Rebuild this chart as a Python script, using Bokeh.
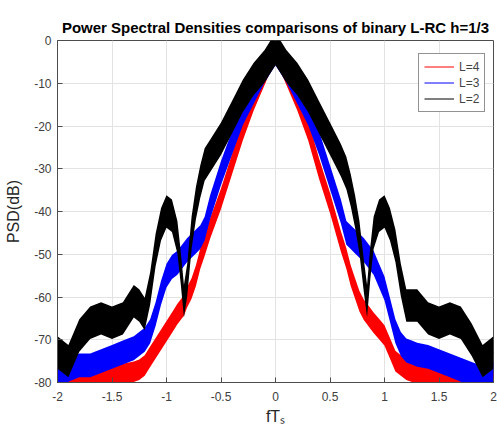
from bokeh.plotting import figure
from bokeh.models import (FixedTicker, CustomJSTickFormatter, Legend, LegendItem,
                          Range1d)
from bokeh.embed import file_html
from bokeh.resources import INLINE

# ---- data ----
freq = [-2.0, -1.9, -1.8, -1.7, -1.6, -1.5, -1.4, -1.3, -1.25, -1.2, -1.15, -1.1,
        -1.05, -1.0, -0.95, -0.9, -0.87, -0.84, -0.81, -0.77, -0.73, -0.69, -0.65,
        -0.6, -0.5, -0.4, -0.3, -0.2, -0.1, -0.05, 0.0,
        0.05, 0.1, 0.2, 0.3, 0.4, 0.5, 0.6, 0.65, 0.69, 0.73, 0.77, 0.81, 0.84,
        0.87, 0.9, 0.95, 1.0, 1.05, 1.1, 1.15, 1.2, 1.25, 1.3, 1.4, 1.5, 1.6, 1.7,
        1.8, 1.9, 2.0]

psd_L4 = [-80, -80, -79.5, -79, -79, -78.5, -78, -77.5, -77, -76, -74, -72, -70, -68,
          -66, -64, -63, -62, -60, -58, -55, -51, -48, -44, -37, -29, -21, -14, -8, -5,
          -3,
          -5, -8, -14, -21, -30, -38, -47, -51, -55, -58, -61, -63, -64, -65, -66,
          -67.5, -69, -72, -75, -76, -77, -77.5, -78, -78, -79, -79.5, -80, -80, -80, -80]

psd_L3 = [-78, -77, -76, -76, -75, -74, -73, -72, -71, -70, -68, -64, -59, -55, -53,
          -52, -51, -50, -49, -48, -47, -46, -44, -39, -31, -24, -17, -12, -7, -5,
          -3,
          -5, -7, -12, -17, -24, -32, -40, -45, -46, -47, -48, -49, -50, -51, -52,
          -55, -58, -63, -68, -71, -72.5, -73, -73.5, -74, -75, -76, -77, -78, -79, -78]

psd_L2 = [-73, -75, -69, -66, -65, -66, -65, -61, -62, -64, -58, -49, -43, -40, -41,
          -46, -53, -61, -56, -45, -38, -33, -29, -27, -23, -18, -13, -9, -6, -4,
          -2,
          -4, -6, -9, -13, -18, -23, -28, -31, -35, -40, -46, -55, -61, -52, -45,
          -41, -40, -43, -48, -56, -62, -62, -62, -65, -66, -65, -66, -70, -75, -73]

series_labels = ["L=4", "L=3", "L=2"]
x_ticks = [-2, -1.5, -1, -0.5, 0, 0.5, 1, 1.5, 2]
y_ticks = [0, -10, -20, -30, -40, -50, -60, -70, -80]

# ---- styling ----
FONT = "Liberation Sans"
colors = ["#ff0000", "#0000ff", "#000000"]
band_half = [2.4, 2.8, 3.8]   # visual thickness of the noisy traces (dB)

p = figure(width=497, height=429, output_backend="svg", toolbar_location=None,
           x_range=Range1d(-2, 2), y_range=Range1d(-80, 0),
           min_border_left=57, min_border_right=4, min_border_top=40,
           min_border_bottom=47, background_fill_color="white",
           border_fill_color="white")

p.title.text = "Power Spectral Densities comparisons of binary L-RC h=1/3"
p.title.text_font = FONT
p.title.text_font_size = "15px"
p.title.text_font_style = "bold"
p.title.align = "center"
p.title.text_color = "#000000"

line_renderers = []
for vals, col, hw in zip([psd_L4, psd_L3, psd_L2], colors, band_half):
    lo = [v - hw for v in vals]
    hi = [v + hw for v in vals]
    p.varea(x=freq, y1=lo, y2=hi, fill_color=col, fill_alpha=1.0)
    r = p.line(x=freq, y=vals, line_color=col, line_width=1)
    line_renderers.append(r)

# axes
p.xaxis.ticker = FixedTicker(ticks=x_ticks)
p.yaxis.ticker = FixedTicker(ticks=y_ticks)
p.xaxis.formatter = CustomJSTickFormatter(code="return tick.toString();")
p.yaxis.formatter = CustomJSTickFormatter(code="return tick.toString();")
for ax in [p.xaxis[0], p.yaxis[0]]:
    ax.major_tick_in = 5
    ax.major_tick_out = 0
    ax.minor_tick_in = 0
    ax.minor_tick_out = 0
    ax.axis_line_color = "#4d4d4d"
    ax.major_tick_line_color = "#4d4d4d"
    ax.major_label_text_font = FONT
    ax.major_label_text_font_size = "12px"
    ax.major_label_text_color = "#404040"
    ax.axis_label_text_font = FONT
    ax.axis_label_text_font_size = "16px"
    ax.axis_label_text_font_style = "normal"
    ax.axis_label_text_color = "#262626"
p.xaxis.major_label_standoff = 9
p.yaxis.major_label_standoff = 6
p.yaxis.axis_label = "PSD(dB)"
p.yaxis.axis_label_standoff = 9
p.xaxis.axis_label = "fT\u209b"
p.xaxis.axis_label_standoff = 4

p.xgrid.grid_line_color = "#e3e3e3"
p.ygrid.grid_line_color = "#e3e3e3"
p.outline_line_color = "#4d4d4d"

legend = Legend(items=[LegendItem(label=lab, renderers=[r])
                       for lab, r in zip(series_labels, line_renderers)],
                location=(361, 270))
legend.label_text_font = FONT
legend.label_text_font_size = "12px"
legend.glyph_width = 30
legend.glyph_height = 15
legend.label_height = 15
legend.padding = 5
legend.spacing = 1
legend.margin = 0
legend.label_standoff = 5
legend.border_line_color = "#262626"
legend.border_line_width = 1
legend.background_fill_alpha = 1.0
p.add_layout(legend)

open("out.html", "w").write(file_html(p, INLINE))
